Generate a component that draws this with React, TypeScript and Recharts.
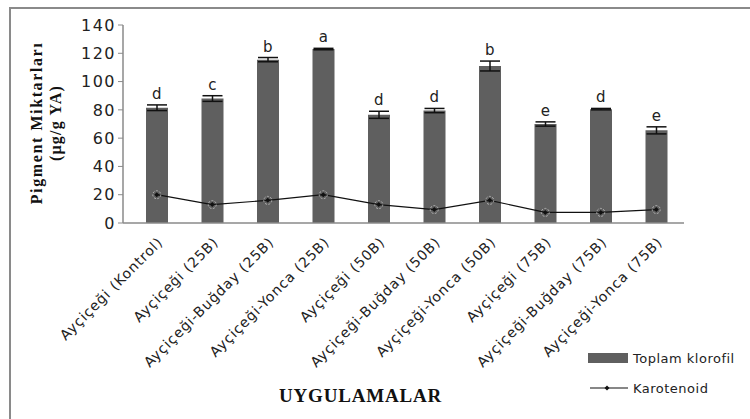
import {
  Bar,
  ComposedChart,
  ErrorBar,
  LabelList,
  Line,
  XAxis,
  YAxis,
} from "recharts"

const categories = [
  "Ayçiçeği (Kontrol)",
  "Ayçiçeği (25B)",
  "Ayçiçeği-Buğday (25B)",
  "Ayçiçeği-Yonca (25B)",
  "Ayçiçeği (50B)",
  "Ayçiçeği-Buğday (50B)",
  "Ayçiçeği-Yonca (50B)",
  "Ayçiçeği (75B)",
  "Ayçiçeği-Buğday (75B)",
  "Ayçiçeği-Yonca (75B)",
]
const klorofil = [81.5, 88, 115.5, 123, 76.5, 79.5, 111, 70, 80.5, 65.5]
const klorofilErr = [2, 2, 1.5, 0.5, 2.5, 1.5, 3.5, 1.5, 0.5, 2.5]
const karotenoid = [20, 13, 16, 20, 13, 9.5, 16, 7.5, 7.5, 9.5]
const karotenoidErr = [2, 2.5, 1.5, 1.5, 2, 1.5, 1.5, 1.5, 1, 1]
const letters = ["d", "c", "b", "a", "d", "d", "b", "e", "d", "e"]
const yTicks = [0, 20, 40, 60, 80, 100, 120, 140]

const data = categories.map((name, i) => ({
  name,
  klorofil: klorofil[i],
  klorofilErr: klorofilErr[i],
  karotenoid: karotenoid[i],
  karotenoidErr: karotenoidErr[i],
  letter: letters[i],
  letterPos: klorofil[i] + klorofilErr[i],
}))

const sans = "'DejaVu Sans', sans-serif"
const serif = "'Liberation Serif', 'Times New Roman', serif"

function CategoryTick(props: any) {
  const { x, y, payload } = props
  return (
    <text
      x={x + 7}
      y={y + 12}
      transform={`rotate(-45 ${x + 7} ${y + 12})`}
      textAnchor="end"
      fontFamily={sans}
      fontSize={14}
      letterSpacing={0.9}
      fill="#222"
    >
      {payload.value}
    </text>
  )
}

function KaroDot(props: any) {
  const { cx, cy } = props
  if (cx == null || cy == null) return null
  return (
    <g>
      <circle cx={cx} cy={cy} r={4} fill="none" stroke="#b5b5b5" strokeDasharray="2 1.5" />
      <path d={`M${cx} ${cy - 2.5}L${cx + 2.5} ${cy}L${cx} ${cy + 2.5}L${cx - 2.5} ${cy}Z`} fill="#111" />
    </g>
  )
}

function YLabel() {
  return (
    <g fontFamily={serif} fontWeight="bold" fill="#111" textAnchor="middle">
      <text x={42} y={123} transform="rotate(-90 42 123)" fontSize={16} letterSpacing={1.6}>
        Pigment Miktarları
      </text>
      <text x={61} y={123} transform="rotate(-90 61 123)" fontSize={16} letterSpacing={1.2}>
        (µg/g YA)
      </text>
    </g>
  )
}

function LegendBox() {
  return (
    <svg width={160} height={50} style={{ position: "absolute", left: 588, top: 352 }}>
      <rect x={0} y={1} width={40} height={10} fill="#5f5f5f" />
      <text x={45} y={11} fontFamily={sans} fontSize={13} letterSpacing={0.5} fill="#222">
        Toplam klorofil
      </text>
      <line x1={2} x2={40} y1={36} y2={36} stroke="#111" strokeWidth={1.2} />
      <path d="M19 33.5L21.5 36L19 38.5L16.5 36Z" fill="#111" />
      <text x={45} y={41} fontFamily={sans} fontSize={13} letterSpacing={0.5} fill="#222">
        Karotenoid
      </text>
    </svg>
  )
}

export default function App() {
  return (
    <div style={{ position: "relative", width: 750, height: 419, overflow: "hidden", background: "#fff" }}>
      <style>{`body{margin:0}`}</style>
      <div
        style={{
          position: "absolute",
          left: 9,
          top: 7,
          width: 760,
          height: 430,
          borderLeft: "2px solid #8a8a8a",
          borderTop: "2px solid #8a8a8a",
        }}
      />
      <div style={{ position: "absolute", left: 0, top: 0 }}>
        <ComposedChart
          width={750}
          height={419}
          data={data}
          margin={{ top: 25, right: 66, bottom: 56, left: 63 }}
        >
          <XAxis
            dataKey="name"
            interval={0}
            height={140}
            padding={{ left: 6, right: 0 }}
            tick={<CategoryTick />}
            tickLine={false}
            axisLine={{ stroke: "#8a8a8a", strokeWidth: 1.5 }}
            label={{
              value: "UYGULAMALAR",
              position: "insideBottom",
              dx: -43,
              dy: 44,
              fontFamily: serif,
              fontWeight: "bold",
              fontSize: 19,
              fill: "#111",
              letterSpacing: 0.8,
            }}
          />
          <YAxis
            width={60}
            domain={[0, 140]}
            ticks={yTicks}
            interval={0}
            tick={{ fontFamily: sans, fontSize: 16, fill: "#222", letterSpacing: 1.5 }}
            tickLine={{ stroke: "#8a8a8a" }}
            tickSize={5}
            axisLine={{ stroke: "#8a8a8a", strokeWidth: 1.5 }}
            label={<YLabel />}
          />
          <Bar dataKey="klorofil" name="Toplam klorofil" fill="#5f5f5f" barSize={22} isAnimationActive={false}>
            <ErrorBar dataKey="klorofilErr" width={10} stroke="#111" strokeWidth={1.5} />
          </Bar>
          <Line
            dataKey="letterPos"
            stroke="none"
            dot={false}
            activeDot={false}
            legendType="none"
            isAnimationActive={false}
          >
            <LabelList dataKey="letter" position="top" offset={6} fontFamily={sans} fontSize={15} fill="#222" />
          </Line>
          <Line
            dataKey="karotenoid"
            name="Karotenoid"
            stroke="#111"
            strokeWidth={1.2}
            dot={<KaroDot />}
            activeDot={false}
            isAnimationActive={false}
          />
        </ComposedChart>
      </div>
      <LegendBox />
    </div>
  )
}
